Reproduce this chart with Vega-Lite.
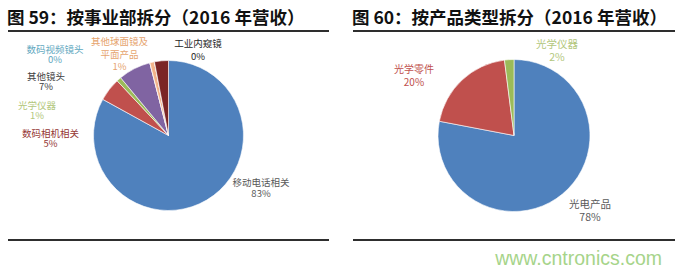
{
  "$schema": "https://vega.github.io/schema/vega-lite/v6.json",
  "padding": {"left": 7, "top": 9, "right": 0, "bottom": 0},
  "background": "#ffffff",
  "config": {"view": {"stroke": null}},
  "datasets": {
    "div": [
      {"ord": 1, "cat": "移动电话相关", "pct": 83},
      {"ord": 2, "cat": "数码相机相关", "pct": 5},
      {"ord": 3, "cat": "光学仪器", "pct": 1},
      {"ord": 4, "cat": "其他镜头", "pct": 7},
      {"ord": 5, "cat": "数码视频镜头", "pct": 0},
      {"ord": 6, "cat": "其他球面镜及平面产品", "pct": 1},
      {"ord": 7, "cat": "工业内窥镜", "pct": 0},
      {"ord": 8, "cat": "其他", "pct": 3}
    ],
    "prod": [
      {"ord": 1, "cat": "光电产品", "pct": 78},
      {"ord": 2, "cat": "光学零件", "pct": 20},
      {"ord": 3, "cat": "光学仪器", "pct": 2}
    ]
  },
  "title": {"text": "www.cntronics.com", "orient": "bottom", "anchor": "end", "color": "#a6d48a", "fontSize": 19.5, "font": "Liberation Sans", "fontWeight": "normal", "offset": 0, "dx": -14},
  "spacing": 22,
  "hconcat": [
    {
      "width": 321,
      "height": 229,
      "title": {"text": "图 59：按事业部拆分（2016 年营收）", "anchor": "start", "fontSize": 17.5, "fontWeight": "bold", "font": "Noto Sans CJK SC", "color": "#111111", "offset": -6},
      "data": {"name": "div"},
      "transform": [
        {"stack": "pct", "groupby": [], "sort": [{"field": "ord"}], "as": ["s0", "s1"]},
        {"calculate": "datum.cat === '其他球面镜及平面产品' ? '其他球面镜及\\n平面产品\\n' + datum.pct + '%' : datum.cat + '\\n' + datum.pct + '%'", "as": "label"}
      ],
      "layer": [
        {"mark": {"type": "rule", "color": "#2e2e2e", "strokeWidth": 2},
         "encoding": {"y": {"datum": 1, "type": "quantitative", "scale": {"domain": [-0.04785, 1.04785]}, "axis": null},
                      "y2": {"datum": 1},
                      "x": {"datum": 0, "type": "quantitative", "scale": {"domain": [0, 1]}, "axis": null},
                      "x2": {"datum": 1}}},
        {"mark": {"type": "rule", "color": "#2e2e2e", "strokeWidth": 2},
         "encoding": {"y": {"datum": 0, "type": "quantitative", "scale": {"domain": [-0.04785, 1.04785]}, "axis": null},
                      "y2": {"datum": 0},
                      "x": {"datum": 0, "type": "quantitative", "scale": {"domain": [0, 1]}, "axis": null},
                      "x2": {"datum": 1}}},
        {"mark": {"type": "arc", "outerRadius": 75, "stroke": "#ffffff", "strokeWidth": 0.6},
         "encoding": {
           "theta": {"field": "s0", "type": "quantitative", "scale": {"domain": [0, 100]}},
           "theta2": {"field": "s1"},
           "color": {"field": "cat", "type": "nominal", "legend": null,
             "scale": {"domain": ["移动电话相关", "数码相机相关", "光学仪器", "其他镜头", "数码视频镜头", "其他球面镜及平面产品", "工业内窥镜", "其他"],
                       "range": ["#4f81bd", "#c0504d", "#9bbb59", "#8064a2", "#4bacc6", "#f2b38a", "#2c4d75", "#7b2525"]}}}},
        {"transform": [{"filter": "datum.cat === '移动电话相关'"}],
         "mark": {"type": "text", "radius": 100, "dx": 92.5, "dy": 147.5, "color": "#595959", "fontSize": 9.5, "lineHeight": 11, "lineBreak": "\n", "font": "Noto Sans CJK SC"},
         "encoding": {"theta": {"field": "s0", "type": "quantitative"}, "text": {"field": "label", "type": "nominal"}}},
        {"transform": [{"filter": "datum.cat === '数码相机相关'"}],
         "mark": {"type": "text", "radius": 100, "dx": -30.4, "dy": 46.7, "color": "#953735", "fontSize": 9.5, "lineHeight": 10, "lineBreak": "\n", "font": "Noto Sans CJK SC"},
         "encoding": {"theta": {"field": "s0", "type": "quantitative"}, "text": {"field": "label", "type": "nominal"}}},
        {"transform": [{"filter": "datum.cat === '光学仪器'"}],
         "mark": {"type": "text", "radius": 100, "dx": -63.1, "dy": 43.4, "color": "#b3c77c", "fontSize": 9.5, "lineHeight": 10, "lineBreak": "\n", "font": "Noto Sans CJK SC"},
         "encoding": {"theta": {"field": "s0", "type": "quantitative"}, "text": {"field": "label", "type": "nominal"}}},
        {"transform": [{"filter": "datum.cat === '其他镜头'"}],
         "mark": {"type": "text", "radius": 100, "dx": -58.8, "dy": 18.5, "color": "#3f3f3f", "fontSize": 9.5, "lineHeight": 10, "lineBreak": "\n", "font": "Noto Sans CJK SC"},
         "encoding": {"theta": {"field": "s0", "type": "quantitative"}, "text": {"field": "label", "type": "nominal"}}},
        {"transform": [{"filter": "datum.cat === '数码视频镜头'"}],
         "mark": {"type": "text", "radius": 100, "dx": -88.6, "dy": 11.4, "color": "#5fa8c0", "fontSize": 9.5, "lineHeight": 10, "lineBreak": "\n", "font": "Noto Sans CJK SC"},
         "encoding": {"theta": {"field": "s0", "type": "quantitative"}, "text": {"field": "label", "type": "nominal"}}},
        {"transform": [{"filter": "datum.cat === '其他球面镜及平面产品'"}],
         "mark": {"type": "text", "radius": 100, "dx": -24.1, "dy": 3.4, "color": "#e6a46e", "fontSize": 9.5, "lineHeight": 12.5, "lineBreak": "\n", "font": "Noto Sans CJK SC"},
         "encoding": {"theta": {"field": "s0", "type": "quantitative"}, "text": {"field": "label", "type": "nominal"}}},
        {"transform": [{"filter": "datum.cat === '工业内窥镜'"}],
         "mark": {"type": "text", "radius": 100, "dx": 48.2, "dy": 6.7, "color": "#262626", "fontSize": 9.5, "lineHeight": 13, "lineBreak": "\n", "font": "Noto Sans CJK SC"},
         "encoding": {"theta": {"field": "s0", "type": "quantitative"}, "text": {"field": "label", "type": "nominal"}}}
      ]
    },
    {
      "width": 322,
      "height": 229,
      "title": {"text": "图 60：按产品类型拆分（2016 年营收）", "anchor": "start", "fontSize": 17.5, "fontWeight": "bold", "font": "Noto Sans CJK SC", "color": "#111111", "offset": -6},
      "data": {"name": "prod"},
      "transform": [
        {"stack": "pct", "groupby": [], "sort": [{"field": "ord"}], "as": ["s0", "s1"]},
        {"calculate": "datum.cat + '\\n' + datum.pct + '%'", "as": "label"}
      ],
      "layer": [
        {"mark": {"type": "rule", "color": "#2e2e2e", "strokeWidth": 2},
         "encoding": {"y": {"datum": 1, "type": "quantitative", "scale": {"domain": [-0.04785, 1.04785]}, "axis": null},
                      "y2": {"datum": 1},
                      "x": {"datum": 0, "type": "quantitative", "scale": {"domain": [0, 1]}, "axis": null},
                      "x2": {"datum": 1}}},
        {"mark": {"type": "rule", "color": "#2e2e2e", "strokeWidth": 2},
         "encoding": {"y": {"datum": 0, "type": "quantitative", "scale": {"domain": [-0.04785, 1.04785]}, "axis": null},
                      "y2": {"datum": 0},
                      "x": {"datum": 0, "type": "quantitative", "scale": {"domain": [0, 1]}, "axis": null},
                      "x2": {"datum": 1}}},
        {"mark": {"type": "arc", "outerRadius": 76, "stroke": "#ffffff", "strokeWidth": 0.6},
         "encoding": {
           "theta": {"field": "s0", "type": "quantitative", "scale": {"domain": [0, 100]}},
           "theta2": {"field": "s1"},
           "color": {"field": "cat", "type": "nominal", "legend": null,
             "scale": {"domain": ["光电产品", "光学零件", "光学仪器"], "range": ["#4f81bd", "#c0504d", "#9bbb59"]}}}},
        {"transform": [{"filter": "datum.cat === '光电产品'"}],
         "mark": {"type": "text", "radius": 100, "dx": 76, "dy": 169.5, "color": "#595959", "fontSize": 10.5, "lineHeight": 13, "lineBreak": "\n", "font": "Noto Sans CJK SC"},
         "encoding": {"theta": {"field": "s0", "type": "quantitative"}, "text": {"field": "label", "type": "nominal"}}},
        {"transform": [{"filter": "datum.cat === '光学零件'"}],
         "mark": {"type": "text", "radius": 100, "dx": -1.8, "dy": -46.8, "color": "#c0504d", "fontSize": 10, "lineHeight": 13, "lineBreak": "\n", "font": "Noto Sans CJK SC"},
         "encoding": {"theta": {"field": "s0", "type": "quantitative"}, "text": {"field": "label", "type": "nominal"}}},
        {"transform": [{"filter": "datum.cat === '光学仪器'"}],
         "mark": {"type": "text", "radius": 100, "dx": 55.5, "dy": 8.7, "color": "#b3c77c", "fontSize": 10.5, "lineHeight": 13, "lineBreak": "\n", "font": "Noto Sans CJK SC"},
         "encoding": {"theta": {"field": "s0", "type": "quantitative"}, "text": {"field": "label", "type": "nominal"}}}
      ]
    }
  ]
}
